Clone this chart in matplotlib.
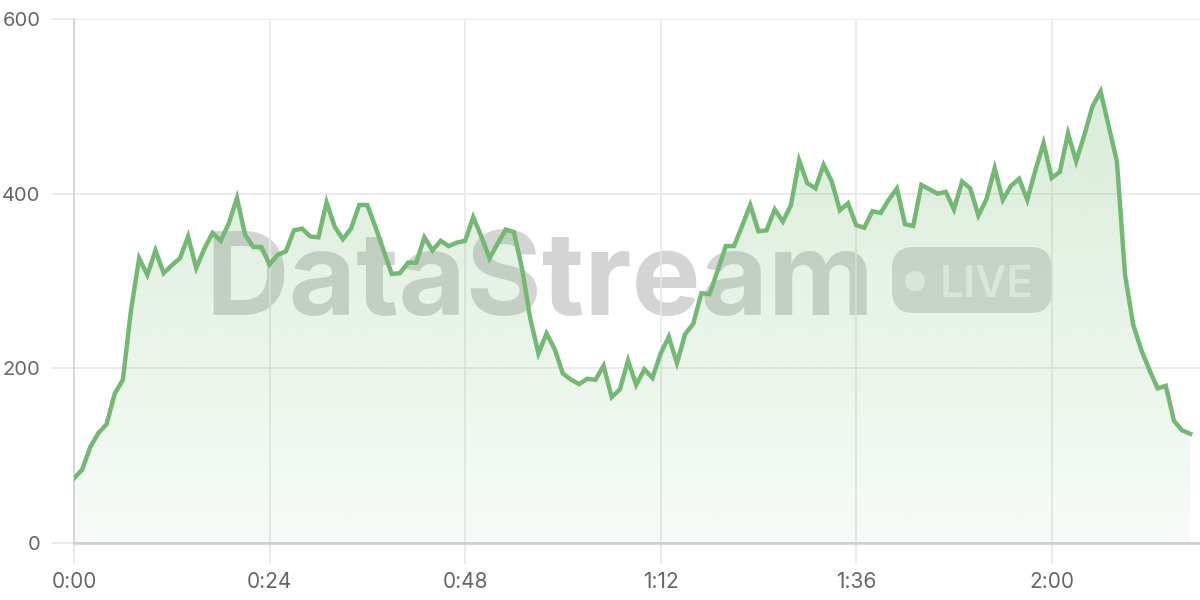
import numpy as np
import matplotlib
matplotlib.use("Agg")
import matplotlib.pyplot as plt
from matplotlib.patches import FancyBboxPatch, Circle

# ---- data ----
minutes = list(range(138))
values = [74, 84, 110, 126, 136, 171, 187, 267, 326, 307,
          335, 309, 318, 326, 351, 315, 337, 355, 346, 366,
          395, 353, 339, 339, 319, 330, 334, 358, 360, 351,
          350, 390, 362, 348, 360, 387, 387, 362, 335, 308,
          309, 321, 321, 350, 335, 346, 340, 344, 346, 373,
          351, 326, 343, 359, 356, 314, 257, 217, 240, 222,
          194, 187, 182, 188, 187, 203, 167, 176, 209, 181,
          199, 189, 217, 236, 206, 239, 251, 286, 285, 312,
          340, 340, 363, 387, 357, 358, 382, 368, 387, 438,
          412, 406, 433, 414, 381, 389, 364, 361, 380, 378,
          393, 406, 365, 363, 410, 405, 400, 402, 382, 414,
          406, 375, 394, 429, 393, 409, 417, 393, 427, 458,
          418, 425, 469, 437, 467, 500, 517, 477, 437, 307,
          250, 221, 198, 177, 180, 140, 129, 125]
xtick_pos = [0, 24, 48, 72, 96, 120]
xtick_labels = ["0:00", "0:24", "0:48", "1:12", "1:36", "2:00"]
ytick_pos = [0, 200, 400, 600]
ytick_labels = ["0", "200", "400", "600"]

LINE = "#73b973"
FONT = ["Inter", "DejaVu Sans"]

fig = plt.figure(figsize=(12, 6), dpi=100)

# overlay (pixel) axes for watermark, below main axes
wm = fig.add_axes([0, 0, 1, 1], zorder=0)
wm.set_xlim(0, 1200)
wm.set_ylim(600, 0)
wm.axis("off")
wm.text(540, 315, "DataStream", fontsize=83.5, fontweight="bold",
        family=["Inter", "DejaVu Sans"], color="#a0a0a0", alpha=0.45,
        ha="center", va="baseline")
pill = FancyBboxPatch((892, 247), 160, 66,
                      boxstyle="round,pad=0,rounding_size=22",
                      facecolor="#a0a0a0", edgecolor="none", alpha=0.4)
wm.add_patch(pill)
wm.add_patch(Circle((915, 281), 10, facecolor="white", edgecolor="none", alpha=0.6))
wm.text(987, 297, "LIVE", fontsize=31, fontweight="semibold",
        family=["Inter", "DejaVu Sans"],
        color="white", alpha=0.6, ha="center", va="baseline")

ax = fig.add_axes([74 / 1200, 57 / 600, 1126 / 1200, 524 / 600], zorder=1)
ax.set_facecolor("none")

x = np.array(minutes, dtype=float)
y = np.array(values, dtype=float)

# gradient fill
poly = ax.fill_between(x, 0, y, color="none", lw=0)
ymax = y.max()
grad = np.linspace(0.06, 0.27, 256).reshape(-1, 1)
rgba = np.zeros((256, 1, 4))
rgba[..., 0] = 0x73 / 255
rgba[..., 1] = 0xb9 / 255
rgba[..., 2] = 0x73 / 255
rgba[..., 3] = grad
im = ax.imshow(rgba, extent=[x.min(), x.max(), 0, ymax], origin="lower",
               aspect="auto", zorder=1.5)
path = poly.get_paths()[0]
im.set_clip_path(path, transform=ax.transData)

ax.plot(x, y, color=LINE, lw=3.2, solid_joinstyle="miter", zorder=3)

ax.set_xlim(0, 138.2)
ax.set_ylim(0, 600)
ax.set_xticks(xtick_pos)
ax.set_xticklabels(xtick_labels)
ax.set_yticks(ytick_pos)
ax.set_yticklabels(ytick_labels)
ax.grid(True, color="#e8e8e8", lw=1.2, zorder=0)
ax.set_axisbelow(True)

for side in ["top", "right"]:
    ax.spines[side].set_visible(False)
ax.spines["left"].set_color("#d0d0d0")
ax.spines["left"].set_linewidth(1.2)
ax.spines["bottom"].set_color("#cccccc")
ax.spines["bottom"].set_linewidth(1.8)

ax.tick_params(axis="y", length=16, width=1.2, color="#e8e8e8", pad=8,
               labelsize=14.5, labelcolor="#666666")
ax.tick_params(axis="x", length=15, width=1.2, color="#e8e8e8", pad=6,
               labelsize=15, labelcolor="#666666")
for lab in ax.get_xticklabels() + ax.get_yticklabels():
    lab.set_family(FONT)

fig.savefig("out.png", dpi=100)
